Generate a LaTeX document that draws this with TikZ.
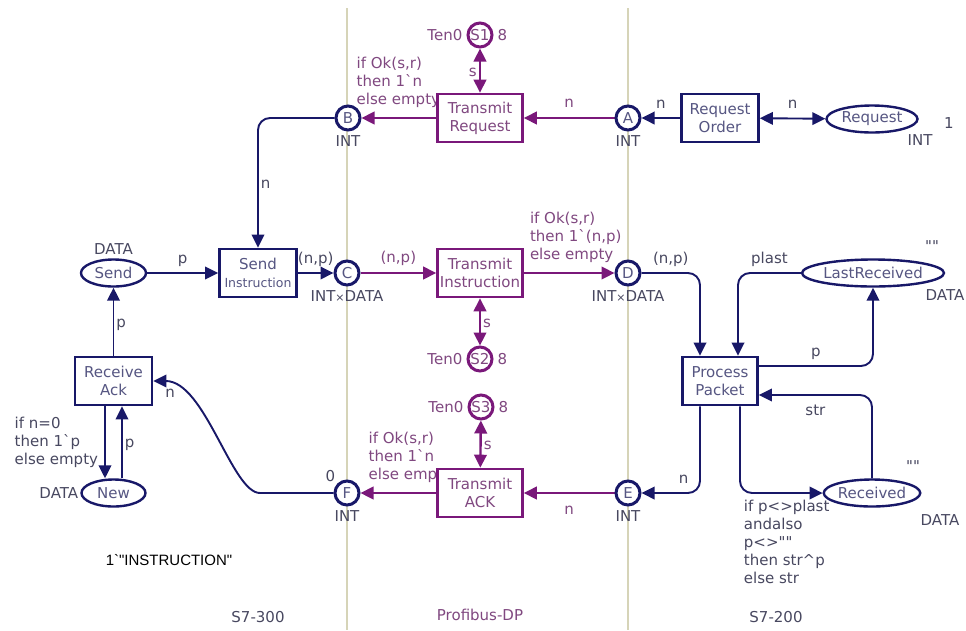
\documentclass[tikz,border=0pt]{standalone}
\usepackage{fontspec}
\newfontfamily\dejavu{DejaVu Sans}
\newfontfamily\arialfont{Liberation Sans}
\usetikzlibrary{arrows.meta,shapes.geometric,positioning}

\definecolor{netblue}{RGB}{24,24,104}
\definecolor{netpurple}{RGB}{122,24,122}
\definecolor{txtblue}{RGB}{86,86,130}
\definecolor{txtpurple}{RGB}{128,72,128}
\definecolor{txtgray}{RGB}{72,72,96}
\definecolor{zoneline}{RGB}{214,212,184}

\pgfdeclarelayer{arcs}
\pgfsetlayers{arcs,main}

\tikzset{
  >={Triangle[length=13pt,width=12.5pt]},
  place/.style={circle, draw=netblue, line width=3pt, fill=white, minimum size=24pt, inner sep=0pt, text=txtblue},
  busplace/.style={place, draw=netpurple, text=txtpurple},
  store/.style={ellipse, draw=netblue, line width=2.4pt, fill=white, inner sep=0pt, minimum height=27pt, text=txtblue},
  trans/.style={rectangle, draw=netblue, line width=2.6pt, fill=white, align=center, minimum width=77pt, minimum height=48pt, inner sep=1pt, text=txtblue},
  bustrans/.style={trans, draw=netpurple, text=txtpurple, minimum width=85pt},
  netarc/.style={draw=netblue, line width=1.9pt, ->, rounded corners=12pt},
  busarc/.style={netarc, draw=netpurple, line width=2.4pt},
  twoway/.style={<->},
  lbl/.style={text=txtgray, inner sep=2pt, text height=11pt, text depth=0pt},
  buslbl/.style={lbl, text=txtpurple},
  note/.style={text=txtgray, inner sep=2pt, align=left},
  busnote/.style={note, text=txtpurple},
  typ/.style={text=txtgray, inner sep=2pt},
}

\begin{document}
\begin{tikzpicture}[x=1pt,y=-1pt,font=\dejavu\fontsize{15}{18}\selectfont]
\useasboundingbox (0,0) rectangle (966,630);

% S7-300 side
\node[store, minimum width=65pt, label={[typ,label distance=2pt]above:DATA}] (send) at (113.5,273) {Send};
\node[trans] (SI) at (258,273) {Send\\{\fontsize{12.5}{15}\selectfont Instruction}};
\node[trans] (RA) at (113.5,381) {Receive\\Ack};
\node[store, minimum width=64pt, label={[typ]left:DATA}] (New) at (113.5,493) {New};

% Profibus-DP
\node[place, label={[typ,label distance=2pt]below:INT}] (B) at (348,118) {B};
\node[place, label={[typ,label distance=2pt]below:INT{\fontsize{11}{13}\selectfont ×}DATA}] (C) at (347,273) {C};
\node[place, label={[typ,label distance=2pt]below:INT}, label={[typ]above left:0}] (F) at (347,493) {F};
\node[busplace, label={[buslbl,label distance=2pt]left:Ten0}, label={[buslbl,label distance=2pt]right:8}] (S1) at (480,35) {S1};
\node[busplace, label={[buslbl,label distance=2pt]left:Ten0}, label={[buslbl,label distance=2pt]right:8}] (S2) at (480,359) {S2};
\node[busplace, label={[buslbl,label distance=2pt]left:Ten0}, label={[buslbl,label distance=2pt]right:8}] (S3) at (481,407) {S3};
\node[bustrans] (TR) at (480,118) {Transmit\\Request};
\node[bustrans] (TI) at (480,273) {Transmit\\Instruction};
\node[bustrans] (TA) at (480,493) {Transmit\\ACK};
\node[place, label={[typ,label distance=2pt]below:INT}] (A) at (628,118) {A};
\node[place, label={[typ,label distance=2pt]below:INT{\fontsize{11}{13}\selectfont ×}DATA}] (D) at (628,273) {D};
\node[place, label={[typ,label distance=2pt]below:INT}] (E) at (628,493) {E};

% S7-200 side
\node[trans] (RO) at (720,118) {Request\\Order};
\node[store, minimum width=91pt] (Req) at (872,119) {Request};
\node[typ] (reqtype) at (920,140) {INT};
\node[typ] (reqinit) at (949,123) {1};
\node[trans, minimum width=75pt] (PP) at (720,381) {Process\\Packet};
\node[store, minimum width=142pt] (LR) at (873,273) {LastReceived};
\node[typ] (lrinit) at (932,246) {""};
\node[typ] (lrtype) at (945,295) {DATA};
\node[store, minimum width=91pt] (Rec) at (872,493) {Received};
\node[typ] (recinit) at (913,466) {""};
\node[typ] (rectype) at (940,520) {DATA};

% texts at the bottom
\node[typ, text=black, font=\arialfont\fontsize{15}{18}\selectfont] (initmark) at (169,560) {1\textasciigrave"INSTRUCTION"};
\node[typ] (s7300) at (258,617) {S7-300};
\node[typ, text=txtpurple] (profibus) at (480,615) {Profibus-DP};
\node[typ] (s7200) at (776,617) {S7-200};

\begin{pgfonlayer}{arcs}
\fill[white] (0,0) rectangle (966,630);
% zone borders
\draw[zoneline, line width=1.4pt] (347,8) -- (347,630) (628,8) -- (628,630);

% request path
\draw[netarc,twoway] (RO) -- (Req) node[midway,above=7pt,lbl]{n};
\draw[netarc] (RO) -- (A) node[midway,above=7pt,lbl]{n};
\draw[busarc] (A) -- (TR) node[midway,above=7pt,buslbl]{n};
\draw[busarc,twoway] (S1) -- (TR) node[midway,left,buslbl]{s};
\draw[busarc] (TR) -- (B) node[pos=1,anchor=south west,xshift=-8pt,yshift=7pt,busnote]{if Ok(s,r)\\then 1\textasciigrave n\\else empty};
\draw[netarc] (B) -| (SI) node[pos=0.75,right,lbl]{n};

% instruction path
\draw[netarc] (send) -- (SI) node[midway,above=7pt,lbl]{p};
\draw[netarc] (SI) -- (C) node[midway,above=7pt,lbl]{(n,p)};
\draw[busarc] (C) -- (TI) node[midway,above=7pt,buslbl]{(n,p)};
\draw[busarc] (TI) -- (D) node[pos=0,anchor=south west,xshift=3pt,yshift=7pt,busnote]{if Ok(s,r)\\then 1\textasciigrave(n,p)\\else empty};
\draw[busarc,twoway] (TI) -- (S2) node[midway,right,buslbl]{s};
\draw[netarc] (D) -| ([xshift=-20pt]PP.north) node[pos=0.25,above=7pt,lbl]{(n,p)};

% processing
\draw[netarc] (LR) -| ([xshift=18pt]PP.north) node[pos=0.25,above=7pt,lbl]{plast};
\draw[netarc] ([yshift=15pt]PP.east) -| (LR) node[pos=0.25,above=7pt,lbl]{p};
\draw[netarc] (Rec) |- ([yshift=-14pt]PP.east) node[pos=0.75,below=7pt,lbl]{str};
\draw[netarc] ([xshift=20pt]PP.south) |- (Rec) node[pos=0.5,anchor=north west,xshift=1pt,yshift=-4pt,note]{if p<>plast\\andalso\\p<>""\\then str\textasciicircum p\\else str};
\draw[netarc] ([xshift=-20pt]PP.south) |- (E) node[pos=0.64,above=7pt,lbl]{n};

% acknowledge path
\draw[busarc] (E) -- (TA) node[midway,below=7pt,buslbl]{n};
\draw[busarc,twoway] (S3) -- (TA) node[midway,right,buslbl]{s};
\draw[busarc] (TA) -- (F) node[pos=1,anchor=south west,xshift=5pt,yshift=7pt,busnote]{if Ok(s,r)\\then 1\textasciigrave n\\else empty};
\draw[netarc] (F) -- (272,493) .. controls (232,493) and (205,381) .. (RA.east) node[pos=1,below right,xshift=9pt,yshift=-3pt,lbl]{n};
\draw[netarc] (RA) -- (send) node[midway,right,lbl]{p};
\draw[netarc] ([xshift=-8.5pt]RA.south) -- ([xshift=-8.5pt]New.north) node[midway,left,xshift=-4pt,note]{if n=0\\then 1\textasciigrave p\\else empty};
\draw[netarc] ([xshift=8.5pt]New.north) -- ([xshift=8.5pt]RA.south) node[midway,right,lbl]{p};
\end{pgfonlayer}
\end{tikzpicture}
\end{document}
